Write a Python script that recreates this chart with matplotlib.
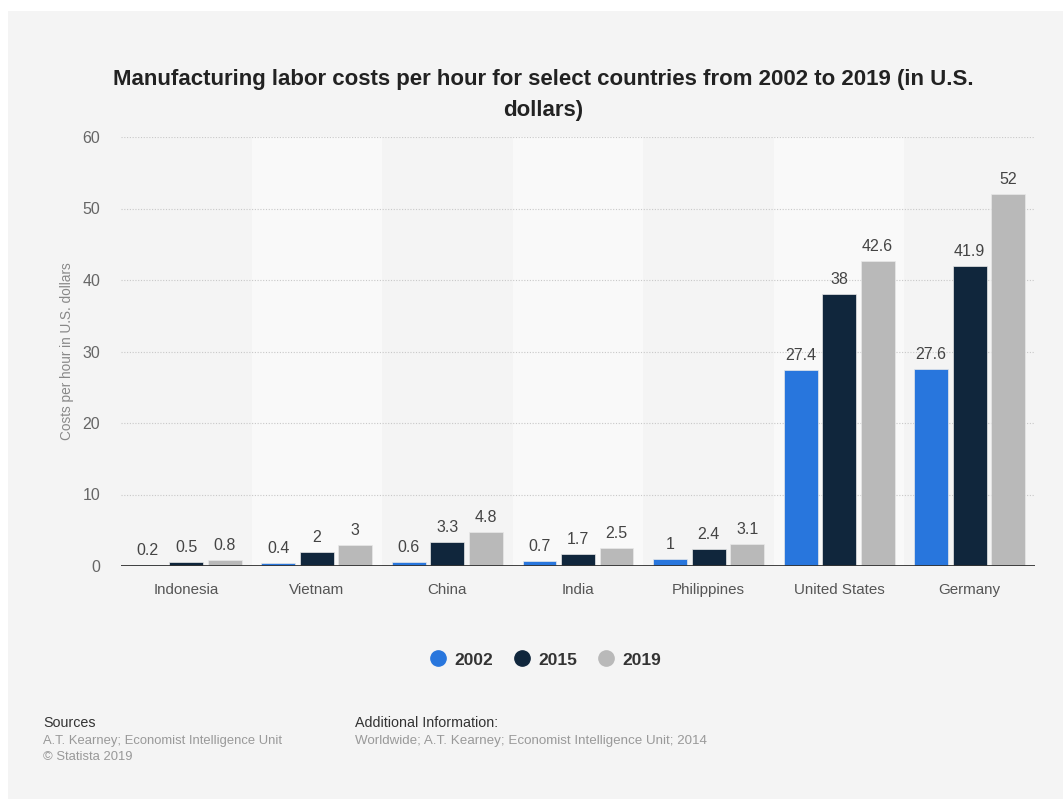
import matplotlib
matplotlib.use("Agg")
import matplotlib.pyplot as plt
from matplotlib.patches import Rectangle
from matplotlib.lines import Line2D
import numpy as np

plt.rcParams['font.family'] = ['Liberation Sans', 'DejaVu Sans']

countries = ["Indonesia", "Vietnam", "China", "India", "Philippines",
             "United States", "Germany"]
years = ["2002", "2015", "2019"]
costs_2002 = [0.2, 0.4, 0.6, 0.7, 1, 27.4, 27.6]
costs_2015 = [0.5, 2, 3.3, 1.7, 2.4, 38, 41.9]
costs_2019 = [0.8, 3, 4.8, 2.5, 3.1, 42.6, 52]
y_ticks = [0, 10, 20, 30, 40, 50, 60]

series = [costs_2002, costs_2015, costs_2019]
colors = ["#2876dd", "#10263c", "#b9b9b9"]

W, H = 1063, 799
fig = plt.figure(figsize=(W / 100, H / 100), dpi=100, facecolor="white")

# card background
fig.patches.append(Rectangle((8 / W, 0), 1 - 8 / W, (H - 11) / H,
                             transform=fig.transFigure, facecolor="#f4f4f4",
                             edgecolor="none", zorder=-10))

ax = fig.add_axes([121 / W, 233 / H, (1035 - 121) / W, (662 - 233) / H])
ax.set_facecolor("none")

x = np.arange(len(countries))
n = len(countries)
ax.set_xlim(-0.5, n - 0.5)
ax.set_ylim(0, 60)

# alternating column bands
for i in range(n):
    if i % 2 == 1:
        ax.axvspan(i - 0.5, i + 0.5, facecolor="#f9f9f9", edgecolor="none", zorder=0)

# dotted grid
for t in y_ticks[1:]:
    ax.axhline(t, color="#c8c8c8", lw=0.8, ls=(0, (1, 1.5)), zorder=1)

step = 0.295
width = 0.26
for k, (vals, col) in enumerate(zip(series, colors)):
    pos = x + (k - 1) * step
    ax.bar(pos, vals, width=width, color=col, edgecolor="#e8e8e8", linewidth=0.5,
           zorder=3)
    for p, v in zip(pos, vals):
        ax.annotate(f"{v:g}", (p, v), xytext=(0, 5), textcoords="offset points",
                    ha="center", va="bottom", fontsize=11.5, color="#444444",
                    zorder=4)

ax.axhline(0, color="#333333", lw=1.3, zorder=5)

for s in ax.spines.values():
    s.set_visible(False)

ax.set_yticks(y_ticks)
ax.set_yticklabels([str(t) for t in y_ticks], fontsize=11.5, color="#666666")
ax.set_xticks(x)
ax.set_xticklabels(countries, fontsize=10.9, color="#555555")
ax.tick_params(axis="y", length=0, pad=15)
ax.tick_params(axis="x", length=0, pad=12)

ax.set_ylabel("Costs per hour in U.S. dollars", fontsize=9.8, color="#888888",
              labelpad=6)

fig.text(543 / W, 1 - 95 / H,
         "Manufacturing labor costs per hour for select countries from 2002 to 2019 (in U.S.\ndollars)",
         ha="center", va="center", fontsize=16, fontweight="bold", color="#222222",
         linespacing=1.6)

handles = [Line2D([], [], marker="o", ls="none", markersize=11,
                  markerfacecolor=c, markeredgecolor=c) for c in colors]
leg = fig.legend(handles, years, loc="center", bbox_to_anchor=(545 / W, 1 - 660 / H),
                 ncol=3, frameon=False, handletextpad=0.45, columnspacing=1.15,
                 handlelength=1.0, prop={"weight": "bold", "size": 12.5})
for t in leg.get_texts():
    t.set_color("#333333")

fig.text(43 / W, 1 - 723 / H, "Sources", fontsize=10.3, color="#333333", va="center")
fig.text(43 / W, 1 - 741 / H, "A.T. Kearney; Economist Intelligence Unit",
         fontsize=9.4, color="#999999", va="center")
fig.text(43 / W, 1 - 757 / H, "\u00a9 Statista 2019", fontsize=9.4,
         color="#999999", va="center")
fig.text(355 / W, 1 - 723 / H, "Additional Information:", fontsize=10.3,
         color="#333333", va="center")
fig.text(355 / W, 1 - 741 / H,
         "Worldwide; A.T. Kearney; Economist Intelligence Unit; 2014",
         fontsize=9.6, color="#999999", va="center")

fig.savefig("out.png", dpi=100, facecolor="white")
